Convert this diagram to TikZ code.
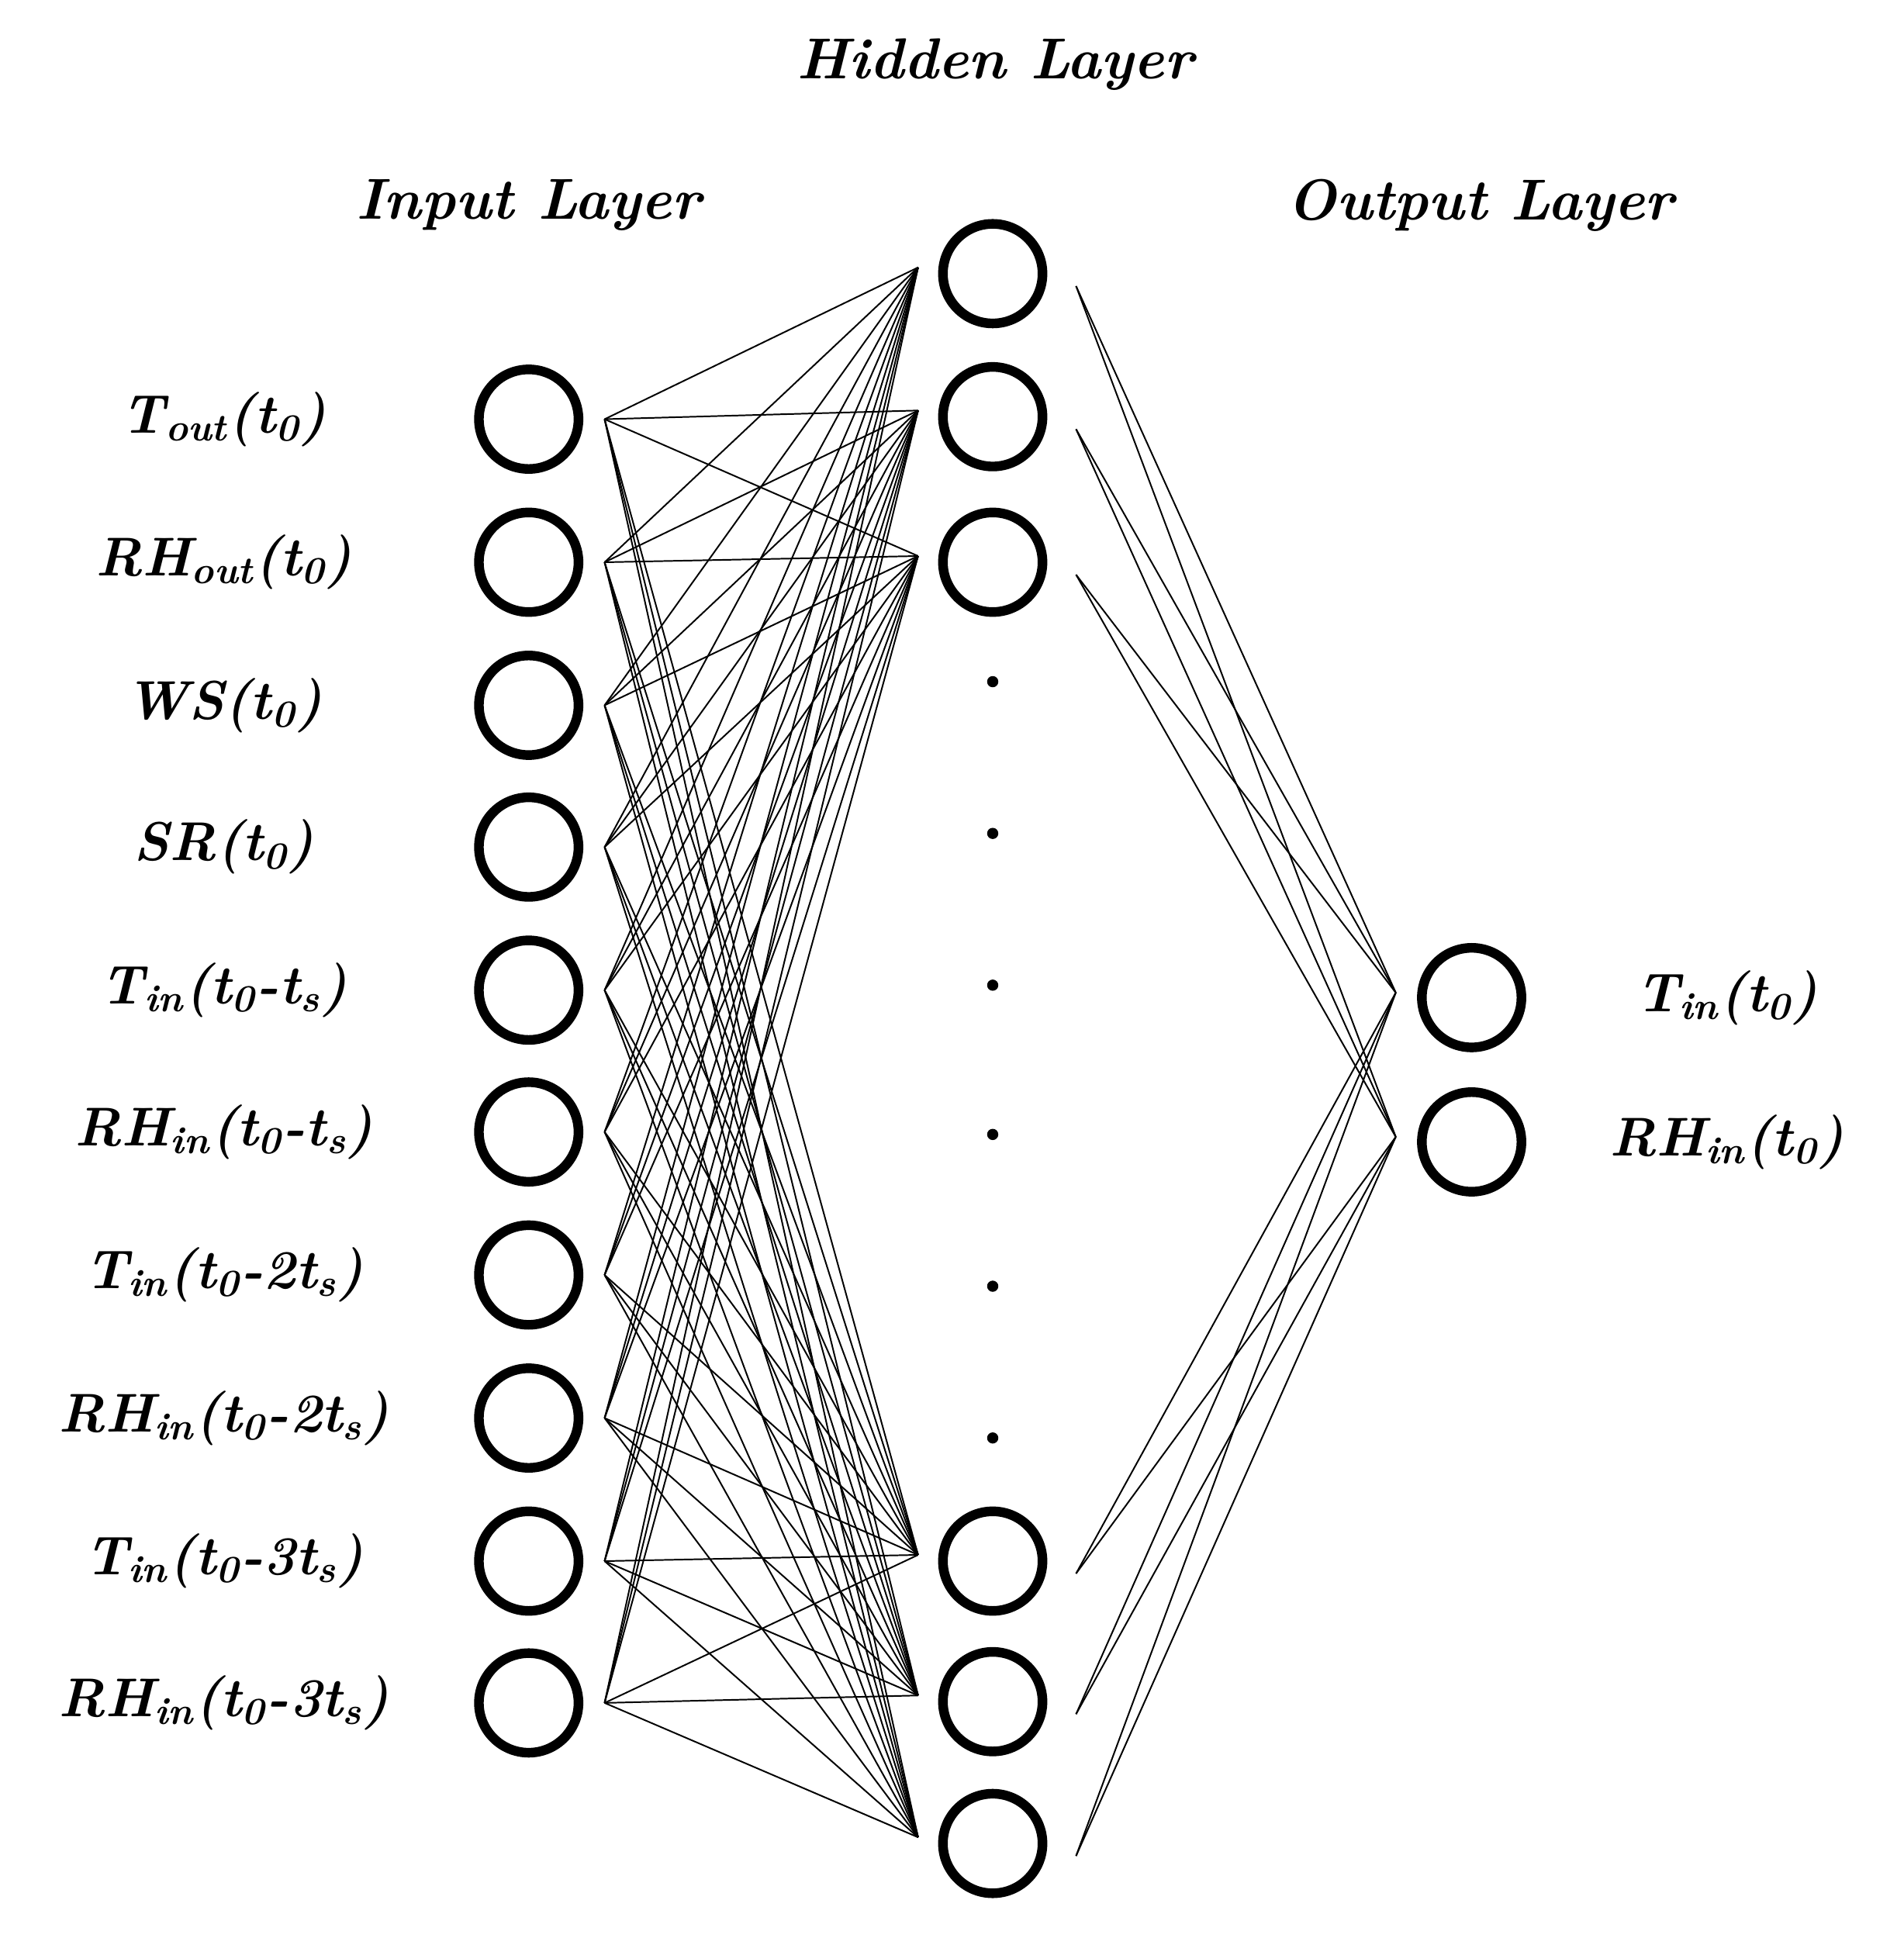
\documentclass[tikz,border=0pt]{standalone}
\usepackage{tikz}
\begin{document}
\begin{tikzpicture}[x=0.01cm, y=-0.01cm,
                    neuron/.style={circle, draw=black, line width=2.2pt, minimum size=0.8cm, inner sep=0pt},
                    dot_style/.style={circle, fill=black, minimum size=0.09cm, inner sep=0pt},
                    edge_style/.style={draw=black, line width=0.35pt},
                    lab/.style={font=\fontsize{12.5}{15}\selectfont\bfseries\itshape},
                    title/.style={font=\fontsize{13.2}{16}\selectfont\bfseries\itshape}
   ]
   \useasboundingbox (0,0) rectangle (1530,1558);
   % Titles
   \node[title] (th) at (800,52) {Hidden Layer};
   \node[title] (ti) at (425,165) {Input Layer};
   \node[title] (to) at (1190,165) {Output Layer};
   % Input layer
   \foreach \i/\y/\t in {1/337/T\textsubscript{out}(t\textsubscript{0}),
                         2/452/RH\textsubscript{out}(t\textsubscript{0}),
                         3/567/WS(t\textsubscript{0}),
                         4/681/SR(t\textsubscript{0}),
                         5/796/T\textsubscript{in}(t\textsubscript{0}-t\textsubscript{s}),
                         6/910/RH\textsubscript{in}(t\textsubscript{0}-t\textsubscript{s}),
                         7/1025/T\textsubscript{in}(t\textsubscript{0}-2t\textsubscript{s}),
                         8/1140/RH\textsubscript{in}(t\textsubscript{0}-2t\textsubscript{s}),
                         9/1255/T\textsubscript{in}(t\textsubscript{0}-3t\textsubscript{s}),
                         10/1369/RH\textsubscript{in}(t\textsubscript{0}-3t\textsubscript{s})} {
     \node[neuron] (in\i) at (425,\y) {};
     \node[lab] (lin\i) at (180,\y) {\t};
     \coordinate (ia\i) at (486,\y);
   }
   % Hidden layer
   \foreach \j/\y in {1/220,2/335,3/452,4/1255,5/1368,6/1482} {
     \node[neuron] (hid\j) at (798,\y) {};
     \coordinate (hl\j) at (738,\y-5);
     \coordinate (hr\j) at (865,\y+10);
   }
   \foreach \k/\y in {1/548,2/670,3/792,4/912,5/1034,6/1156}
     \node[dot_style] (dot\k) at (798,\y) {};
   % Output layer
   \node[neuron] (out1) at (1183,802) {};
   \node[neuron] (out2) at (1183,918) {};
   \node[lab] (lout1) at (1388,802) {T\textsubscript{in}(t\textsubscript{0})};
   \node[lab] (lout2) at (1388,918) {RH\textsubscript{in}(t\textsubscript{0})};
   \coordinate (ol1) at (1122,798);
   \coordinate (ol2) at (1122,914);
   % Connections
   \foreach \i in {1,...,10}
     \foreach \j in {1,...,6}
       \draw[edge_style] (ia\i) -- (hl\j);
   \foreach \j in {1,...,6}
     \foreach \k in {1,2}
       \draw[edge_style] (hr\j) -- (ol\k);
\end{tikzpicture}
\end{document}
